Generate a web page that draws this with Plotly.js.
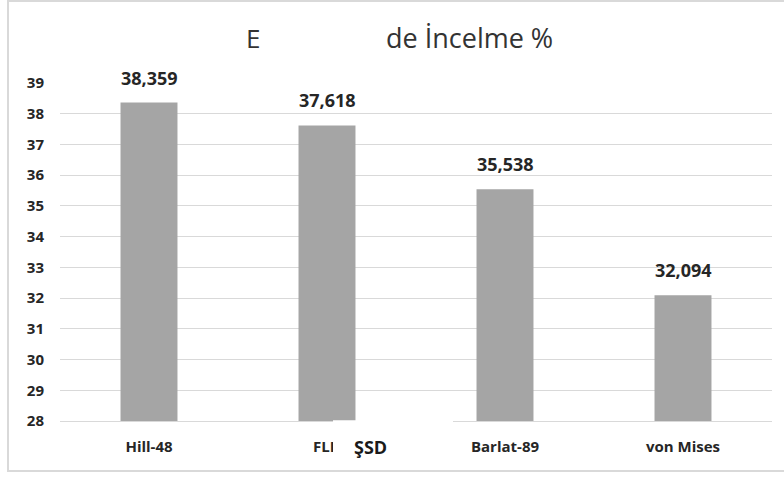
<!DOCTYPE html>
<html>
<head>
<meta charset="utf-8">
<script src="https://cdn.plot.ly/plotly-3.0.1.min.js"></script>
<style>
  html, body { margin: 0; padding: 0; background: #fff; overflow: hidden; }
  #chart { width: 784px; height: 477px; }
  #frame { position: absolute; left: 7px; top: 0px; width: 790px; height: 468px;
           border: 2px solid #d9d9d9; pointer-events: none; }
</style>
</head>
<body>
<div id="chart"></div>
<div id="frame"></div>
<script>
// ---- data ----
const categories = ["Hill-48", "FLD", "Barlat-89", "von Mises"];
const values = [38.359, 37.618, 35.538, 32.094];
const yTickVals = [28, 29, 30, 31, 32, 33, 34, 35, 36, 37, 38, 39];
const titleLeft = "E";
const titleRight = "de İncelme %";
const overlayLabel = "ŞSD";

const fmt = v => v.toFixed(3).replace(".", ",");

const font = "Open Sans, Noto Sans, sans-serif";
const W = 712, H = 339, L = 60, T = 82;
const px = x => (x - L) / W;
const py = y => (T + H - y) / H;

const trace = {
  type: "bar",
  x: categories,
  y: values,
  marker: { color: "#a5a5a5", line: { width: 0 } },
  hoverinfo: "skip"
};

const valueLabels = categories.map((c, i) => ({
  x: c, y: values[i], xref: "x", yref: "y",
  text: "<b>" + fmt(values[i]) + "</b>",
  showarrow: false, yanchor: "bottom", yshift: 11,
  font: { family: font, size: 18, color: "#262626" }
}));

const layout = {
  width: 784, height: 477,
  margin: { l: L, r: 784 - L - W, t: T, b: 477 - T - H },
  paper_bgcolor: "#ffffff",
  plot_bgcolor: "#ffffff",
  showlegend: false,
  bargap: 0.68,
  xaxis: {
    type: "category",
    showgrid: false,
    showline: true, linecolor: "#d9d9d9", linewidth: 1,
    ticks: "",
    ticklabelstandoff: 12,
    tickfont: { family: font, size: 15, color: "#262626", weight: "bold" }
  },
  yaxis: {
    range: [28, 39.03],
    tickvals: yTickVals,
    showgrid: true, gridcolor: "#d9d9d9", gridwidth: 1,
    zeroline: false, showline: false,
    ticks: "",
    ticklabelstandoff: 15,
    tickfont: { family: font, size: 15, color: "#262626", weight: "bold" }
  },
  shapes: [
    { type: "rect", xref: "paper", yref: "paper", layer: "above",
      x0: px(333), x1: px(453), y0: py(466), y1: py(420.3),
      fillcolor: "#ffffff", line: { width: 0 } }
  ],
  annotations: valueLabels.concat([
    { xref: "paper", yref: "paper", x: px(244), y: py(38), xanchor: "left", yanchor: "middle",
      text: titleLeft, showarrow: false, font: { family: font, size: 26, color: "#333333" } },
    { xref: "paper", yref: "paper", x: px(384), y: py(38), xanchor: "left", yanchor: "middle",
      text: titleRight, showarrow: false, font: { family: font, size: 27, color: "#333333" } },
    { xref: "paper", yref: "paper", x: px(370), y: py(447), xanchor: "center", yanchor: "middle",
      text: "<b>" + overlayLabel + "</b>", showarrow: false,
      font: { family: font, size: 18, color: "#1a1a1a" } }
  ])
};

Plotly.newPlot("chart", [trace], layout, { staticPlot: true, displayModeBar: false });
</script>
</body>
</html>
